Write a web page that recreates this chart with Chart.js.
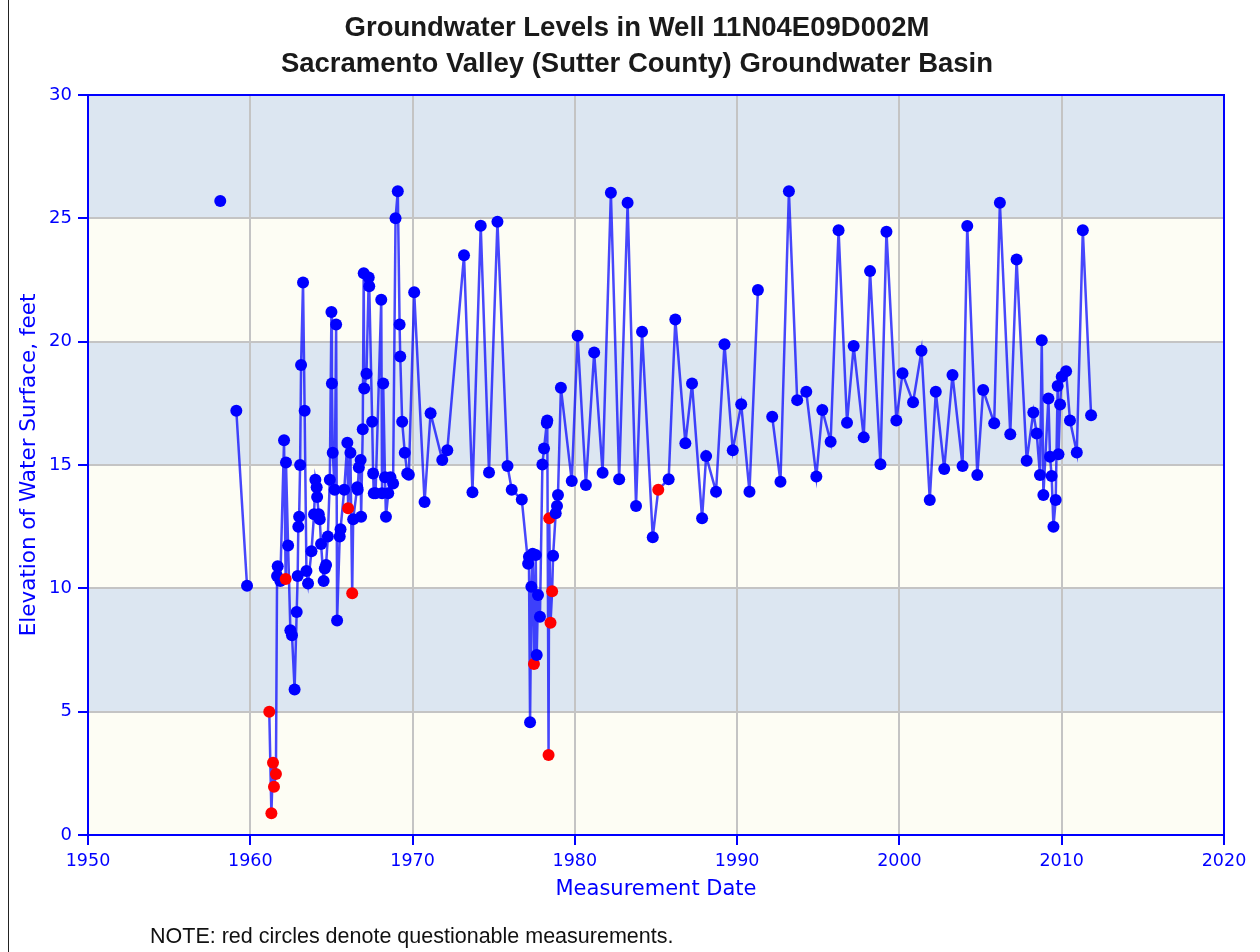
<html>
<head>
<title>Groundwater Levels in Well 11N04E09D002M</title>
<style>
body { margin: 0; background: #fff; }
#wrap { position: relative; width: 1260px; height: 952px; }
#edge { position: absolute; left: 8px; top: 0; height: 952px; border-left: 1px solid #222; }
#title { position: absolute; left: 0; top: 9px; width: 1274px; text-align: center;
	font: bold 27.5px/36px "Liberation Sans", Arial, sans-serif; color: #1a1a1a; }
#note { position: absolute; left: 150px; top: 924px; font: 21.5px "Liberation Sans", Arial, sans-serif; color: #111; }
</style>
<script src="https://cdn.jsdelivr.net/npm/chart.js"></script>
<script>
// measurement dates (decimal year) and water surface elevation (feet)
// null level = no line drawn across that gap
const years = [
	1958.15, 1958.6,
	1959.14, 1959.80, 1960.5,
	1961.17, 1961.30, 1961.40, 1961.46, 1961.58, 1961.65, 1961.69, 1961.85,
	1962.08, 1962.18, 1962.20, 1962.33, 1962.47, 1962.57, 1962.73, 1962.86, 1962.92, 1962.96,
	1963.01, 1963.07, 1963.13, 1963.25, 1963.35, 1963.46, 1963.56, 1963.77, 1963.93,
	1964.01, 1964.09, 1964.12, 1964.22, 1964.28, 1964.36, 1964.52, 1964.59, 1964.67, 1964.78, 1964.90,
	1965.00, 1965.03, 1965.08, 1965.20, 1965.29, 1965.35, 1965.51, 1965.56, 1965.79, 1965.98,
	1966.03, 1966.17, 1966.28, 1966.34, 1966.59, 1966.62, 1966.69, 1966.80, 1966.83, 1966.93, 1966.99,
	1967.02, 1967.16, 1967.30, 1967.33, 1967.51, 1967.57, 1967.61, 1967.72,
	1968.07, 1968.12, 1968.19, 1968.30, 1968.36, 1968.50, 1968.64, 1968.80, 1968.95,
	1969.09, 1969.20, 1969.24, 1969.36, 1969.52, 1969.67, 1969.77,
	1970.10, 1970.74, 1971.11, 1971.83, 1972.14,
	1973.17, 1973.69, 1974.20, 1974.71, 1975.23, 1975.85, 1976.11, 1976.73,
	1977.12, 1977.17, 1977.24, 1977.32, 1977.40, 1977.48, 1977.59, 1977.65, 1977.73, 1977.85,
	1978.00, 1978.10, 1978.27, 1978.30, 1978.38, 1978.42, 1978.50, 1978.60, 1978.66, 1978.82, 1978.90, 1978.96,
	1979.14, 1979.81, 1980.17, 1980.68, 1981.19, 1981.71, 1982.22, 1982.73, 1983.25, 1983.77,
	1984.14, 1984.80, 1985.14, 1985.78, 1986.19, 1986.81, 1987.22, 1987.84, 1988.09, 1988.70,
	1989.22, 1989.73, 1990.25, 1990.76, 1991.28, 1991.7,
	1992.16, 1992.67, 1993.19, 1993.70, 1994.26, 1994.88, 1995.25, 1995.76, 1996.25, 1996.77,
	1997.18, 1997.80, 1998.19, 1998.83, 1999.20, 1999.81, 2000.19, 2000.84, 2001.36, 2001.87,
	2002.24, 2002.76, 2003.27, 2003.89, 2004.18, 2004.80, 2005.16, 2005.84, 2006.19, 2006.83,
	2007.22, 2007.84, 2008.25, 2008.46, 2008.66, 2008.77, 2008.87, 2009.18, 2009.28, 2009.38,
	2009.49, 2009.63, 2009.75, 2009.80, 2009.90, 2010.00, 2010.27, 2010.51, 2010.93, 2011.30, 2011.81
];
const levels = [
	25.7, null,
	17.2, 10.1, null,
	5.0, 0.88, 2.93, 1.96, 2.47, 10.5, 10.9, 10.3,
	16.0, 10.38, 15.1, 11.74, 8.3, 8.1, 5.9, 9.04, 10.5, 12.5,
	12.9, 15.0, 19.05, 22.4, 17.2, 10.7, 10.2, 11.5, 13.0,
	14.4, 14.1, 13.7, 13.0, 12.8, 11.8, 10.3, 10.8, 10.95, 12.1, 14.4,
	21.2, 18.3, 15.5, 14.0, 20.7, 8.7, 12.1, 12.4, 14.0, 15.9,
	13.25, 15.5, 9.8, 12.8, 14.1, 14.0, 14.9, 15.2, 12.9, 16.45, 22.77,
	18.1, 18.7, 22.6, 22.25, 16.75, 14.66, 13.85, 13.85,
	21.7, 13.85, 18.3, 14.5, 12.9, 13.85, 14.5, 14.25, 25.0,
	26.1, 20.7, 19.4, 16.75, 15.5, 14.66, 14.6,
	22.0, 13.5, 17.1, 15.2, 15.6,
	23.5, 13.9, 24.7, 14.7, 24.86, 14.96, 14.0, 13.6,
	11.0, 11.28, 4.57, 10.06, 11.4, 6.93, 11.35, 7.3, 9.73, 8.85,
	15.02, 15.67, 16.7, 16.8, 3.24, 12.84, 8.6, 9.88, 11.32, 13.04, 13.34, 13.78,
	18.13, 14.35, 20.24, 14.19, 19.56, 14.69, 26.04, 14.42, 25.63, 13.34,
	20.4, 12.07, 14.0, 14.42, 20.9, 15.88, 18.3, 12.84, 15.36, 13.92,
	19.9, 15.6, 17.46, 13.92, 22.09, null,
	16.96, 14.32, 26.1, 17.63, 17.97, 14.53, 17.23, 15.94, 24.52, 16.71,
	19.82, 16.12, 22.86, 15.03, 24.46, 16.8, 18.72, 17.54, 19.63, 13.58,
	17.97, 14.84, 18.65, 14.96, 24.69, 14.59, 18.04, 16.69, 25.63, 16.25,
	23.33, 15.17, 17.13, 16.28, 14.59, 20.06, 13.78, 17.7, 15.33, 14.55,
	12.5, 13.58, 18.2, 15.44, 17.45, 18.58, 18.8, 16.8, 15.51, 24.52, 17.02
];
// dates of the measurements flagged as questionable (red circles)
const questionable = [1961.17, 1961.30, 1961.40, 1961.46, 1961.58, 1962.18, 1966.03, 1966.28,
	1977.48, 1978.38, 1978.42, 1978.50, 1978.60, 1985.14];

const xTicks = [1950, 1960, 1970, 1980, 1990, 2000, 2010, 2020];
const yTicks = [0, 5, 10, 15, 20, 25, 30];

const titleLines = ['Groundwater Levels in Well 11N04E09D002M', 'Sacramento Valley (Sutter County) Groundwater Basin'];
const xTitle = 'Measurement Date';
const yTitle = 'Elevation of Water Surface, feet';

const BLUE = '#0000ff';

// alternating background bands between y ticks, plus the top/right frame
const bands = {
	id: 'bands',
	beforeDraw(chart) {
		const ctx = chart.ctx, a = chart.chartArea, y = chart.scales.y;
		ctx.save();
		ctx.fillStyle = '#fff';
		ctx.fillRect(0, 0, chart.width, chart.height);
		for (let i = 0; i < yTicks.length - 1; i++) {
			const top = y.getPixelForValue(yTicks[i + 1]), bot = y.getPixelForValue(yTicks[i]);
			ctx.fillStyle = (i % 2 == 0) ? '#fdfdf4' : '#dce6f1';
			ctx.fillRect(a.left, top, a.right - a.left, bot - top);
		}
		ctx.restore();
	},
	afterDraw(chart) {
		const ctx = chart.ctx, a = chart.chartArea;
		ctx.save();
		ctx.strokeStyle = BLUE;
		ctx.lineWidth = 2;
		ctx.beginPath();
		ctx.moveTo(a.left, a.top);
		ctx.lineTo(a.right, a.top);
		ctx.lineTo(a.right, a.bottom);
		ctx.stroke();
		ctx.restore();
	}
};

function load()
{
	document.getElementById('title').innerHTML = titleLines.join('<br>');

	const pts = years.map((x, i) => ({ x: x, y: levels[i] }));
	const colors = years.map((x) => questionable.includes(x) ? '#ff0000' : BLUE);

	const config = {
		type: 'line',
		data: {
			datasets: [{
				label: 'Groundwater level',
				data: pts,
				borderColor: 'rgba(0,0,255,0.72)',
				borderWidth: 2.5,
				pointRadius: 6,
				pointBackgroundColor: colors,
				pointBorderColor: colors,
				pointBorderWidth: 0,
				spanGaps: false,
				tension: 0
			}]
		},
		options: {
			responsive: false,
			animation: false,
			events: [],
			layout: { padding: { left: 0, right: 36, top: 95, bottom: 47 } },
			plugins: {
				legend: false,
				tooltip: { enabled: false },
				title: { display: false }
			},
			scales: {
				x: {
					type: 'linear',
					min: xTicks[0],
					max: xTicks[xTicks.length - 1],
					afterBuildTicks: (s) => { s.ticks = xTicks.map(v => ({ value: v })); },
					afterFit: (s) => { s.height = 70; },
					ticks: { color: BLUE, padding: 6, font: { family: 'DejaVu Sans', size: 17.5 }, maxRotation: 0,
						callback: (v) => String(v) },
					grid: { color: '#c4c4c4', lineWidth: 2, tickColor: BLUE, tickLength: 10 },
					border: { color: BLUE, width: 2 },
					title: { display: true, text: xTitle, color: BLUE, padding: { top: 0, bottom: 3 },
						font: { family: 'DejaVu Sans', size: 21 } }
				},
				y: {
					min: yTicks[0],
					max: yTicks[yTicks.length - 1],
					afterBuildTicks: (s) => { s.ticks = yTicks.map(v => ({ value: v })); },
					afterFit: (s) => { s.width = 88; },
					ticks: { color: BLUE, padding: 6, font: { family: 'DejaVu Sans', size: 18 },
						callback: (v) => String(v) },
					grid: { color: '#c4c4c4', lineWidth: 2, tickColor: BLUE, tickLength: 10 },
					border: { color: BLUE, width: 2 },
					title: { display: true, text: yTitle, color: BLUE, padding: { top: 17, bottom: 0 },
						font: { family: 'DejaVu Sans', size: 21.5 } }
				}
			}
		},
		plugins: [bands]
	};
	new Chart(document.getElementById('chart'), config);
}
</script>
</head>
<body onload='load();'>
<div id='wrap'>
	<canvas id='chart' width='1260' height='952'></canvas>
	<div id='edge'></div>
	<div id='title'></div>
	<div id='note'>NOTE: red circles denote questionable measurements.</div>
</div>
</body>
</html>
